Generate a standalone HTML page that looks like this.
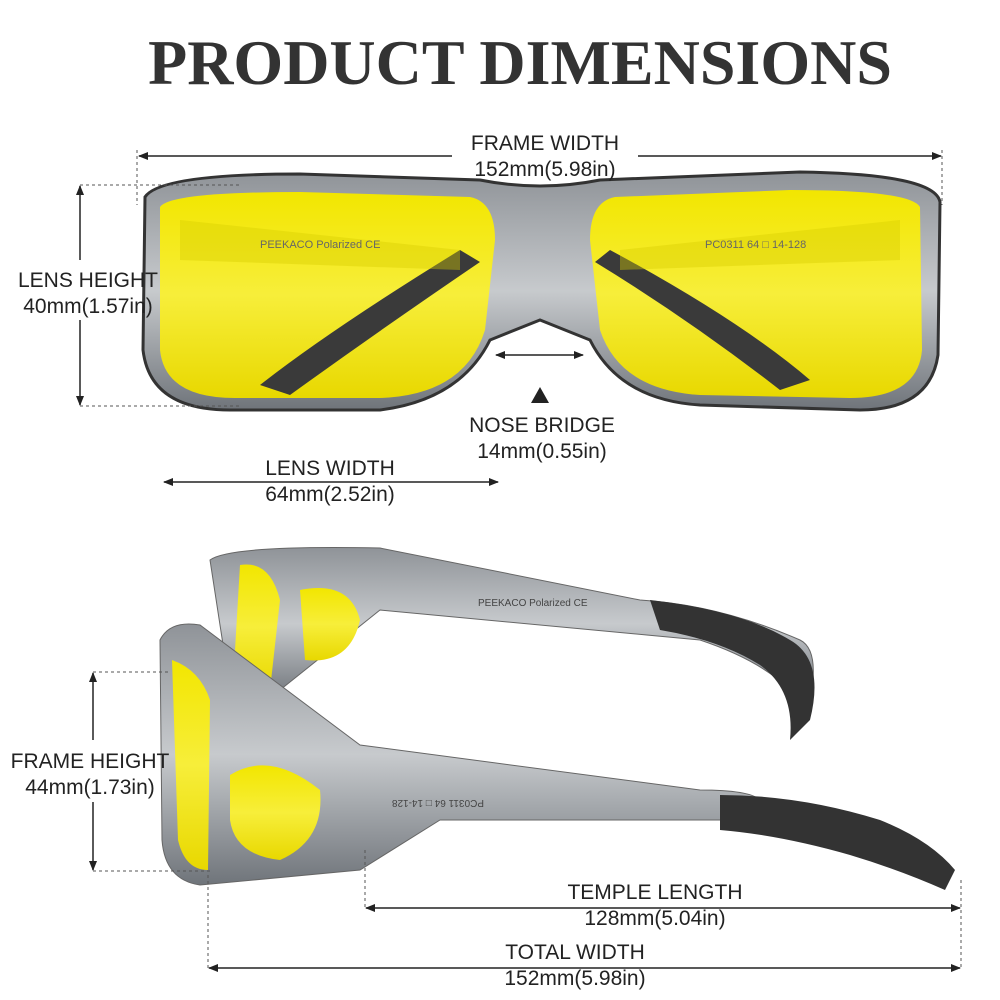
<!DOCTYPE html>
<html><head><meta charset="utf-8"><style>
html,body{margin:0;padding:0;background:#fff;}
svg{display:block}
text{font-family:"Liberation Sans",sans-serif;fill:#222}
</style></head><body>
<svg width="1000" height="1000" viewBox="0 0 1000 1000" xmlns="http://www.w3.org/2000/svg">
<defs>
<marker id="a" markerWidth="10" markerHeight="8" refX="9" refY="4" orient="auto-start-reverse" markerUnits="userSpaceOnUse"><path d="M0,0 L10,4 L0,8 z" fill="#222"/></marker>
<linearGradient id="y" x1="0" y1="0" x2="0" y2="1"><stop offset="0" stop-color="#f2e600"/><stop offset="0.5" stop-color="#f7ee3a"/><stop offset="1" stop-color="#e8d800"/></linearGradient>
<linearGradient id="g" x1="0" y1="0" x2="0" y2="1"><stop offset="0" stop-color="#8f9398"/><stop offset="0.5" stop-color="#c7cacd"/><stop offset="1" stop-color="#6f747a"/></linearGradient>
</defs>
<text x="520" y="84" text-anchor="middle" style="font-family:'Liberation Serif',serif;font-weight:bold;font-size:64px;fill:#333">PRODUCT DIMENSIONS</text>

<!-- front glasses -->
<path d="M145,197 Q160,174 300,174 L480,180 Q540,192 600,180 L800,172 Q935,174 940,202 L938,355 Q930,410 860,410 L700,405 Q620,400 590,340 L540,320 L490,340 Q460,400 380,410 L230,410 Q150,410 143,350 Z" fill="url(#g)" stroke="#333" stroke-width="3"/>
<path d="M160,207 Q170,192 300,192 L470,197 Q495,202 495,240 L485,330 Q465,395 380,398 L235,398 Q165,398 160,350 Z" fill="url(#y)"/>
<path d="M920,207 Q910,190 790,190 L615,197 Q590,202 590,240 L600,330 Q620,390 700,395 L850,398 Q918,398 922,350 Z" fill="url(#y)"/>
<path d="M260,385 Q330,330 460,250 L480,262 Q380,330 290,395 Z" fill="#3a3a3a"/>
<path d="M810,380 Q740,320 610,250 L595,262 Q690,320 780,390 Z" fill="#3a3a3a"/>
<path d="M180,220 L460,250 L460,270 L180,260 Z" fill="#d8cc00" opacity="0.4"/>
<path d="M900,220 L620,250 L620,270 L900,260 Z" fill="#d8cc00" opacity="0.4"/>
<text x="260" y="248" font-size="11" style="fill:#666">PEEKACO  Polarized  CE</text>
<text x="705" y="248" font-size="11" style="fill:#666">PC0311 64 □ 14-128</text>

<!-- side glasses -->
<path d="M210,560 Q230,545 380,548 L640,600 Q720,605 800,640 Q820,650 810,700 L790,690 Q760,660 700,640 L380,610 L280,690 L230,690 Z" fill="url(#g)" stroke="#666"/>
<path d="M650,600 Q740,610 790,640 Q825,660 810,720 L790,740 Q795,690 760,665 Q720,640 660,630 Z" fill="#333"/>
<path d="M240,565 Q270,560 280,600 L270,690 Q245,690 235,650 Z" fill="url(#y)"/>
<path d="M300,590 Q350,580 360,620 Q350,665 305,660 Z" fill="url(#y)"/>
<text x="478" y="606" font-size="10" style="fill:#444">PEEKACO   Polarized  CE</text>
<path d="M160,640 Q170,620 200,625 L360,745 L700,790 Q750,790 760,800 L720,820 L440,820 L360,870 L200,885 Q165,880 162,840 Z" fill="url(#g)" stroke="#666"/>
<path d="M172,660 Q200,670 210,700 L208,870 Q185,870 178,840 Z" fill="url(#y)"/>
<path d="M230,775 Q270,750 320,790 Q325,840 280,860 Q235,855 230,820 Z" fill="url(#y)"/>
<path d="M720,795 Q800,795 880,820 Q930,840 955,870 L945,890 Q900,870 850,855 Q780,835 720,830 Z" fill="#333"/>
<text x="590" y="800" font-size="10" transform="rotate(180 537 800)" style="fill:#444">PC0311 64 □ 14-128</text>

<!-- frame width -->
<line x1="139" y1="156" x2="452" y2="156" stroke="#222" stroke-width="1.5" marker-start="url(#a)"/>
<line x1="638" y1="156" x2="941" y2="156" stroke="#222" stroke-width="1.5" marker-end="url(#a)"/>
<text x="545" y="150" text-anchor="middle" font-size="21">FRAME WIDTH</text>
<text x="545" y="176" text-anchor="middle" font-size="21">152mm(5.98in)</text>
<line x1="137" y1="150" x2="137" y2="205" stroke="#555" stroke-dasharray="3,3"/>
<line x1="942" y1="150" x2="942" y2="205" stroke="#555" stroke-dasharray="3,3"/>

<!-- lens height -->
<line x1="80" y1="186" x2="80" y2="260" stroke="#222" stroke-width="1.5" marker-start="url(#a)"/>
<line x1="80" y1="320" x2="80" y2="405" stroke="#222" stroke-width="1.5" marker-end="url(#a)"/>
<line x1="80" y1="185" x2="240" y2="185" stroke="#555" stroke-dasharray="3,3"/>
<line x1="80" y1="406" x2="240" y2="406" stroke="#555" stroke-dasharray="3,3"/>
<text x="88" y="287" text-anchor="middle" font-size="21">LENS HEIGHT</text>
<text x="88" y="313" text-anchor="middle" font-size="21">40mm(1.57in)</text>

<!-- nose bridge -->
<line x1="496" y1="355" x2="583" y2="355" stroke="#222" stroke-width="1.5" marker-start="url(#a)" marker-end="url(#a)"/>
<path d="M540,387 L549,403 L531,403 Z" fill="#222"/>
<text x="542" y="432" text-anchor="middle" font-size="21">NOSE BRIDGE</text>
<text x="542" y="458" text-anchor="middle" font-size="21">14mm(0.55in)</text>

<!-- lens width -->
<line x1="164" y1="482" x2="498" y2="482" stroke="#222" stroke-width="1.5" marker-start="url(#a)" marker-end="url(#a)"/>
<text x="330" y="475" text-anchor="middle" font-size="21">LENS WIDTH</text>
<text x="330" y="501" text-anchor="middle" font-size="21">64mm(2.52in)</text>

<!-- frame height -->
<line x1="93" y1="673" x2="93" y2="740" stroke="#222" stroke-width="1.5" marker-start="url(#a)"/>
<line x1="93" y1="802" x2="93" y2="870" stroke="#222" stroke-width="1.5" marker-end="url(#a)"/>
<line x1="93" y1="672" x2="170" y2="672" stroke="#555" stroke-dasharray="3,3"/>
<line x1="93" y1="871" x2="210" y2="871" stroke="#555" stroke-dasharray="3,3"/>
<text x="90" y="768" text-anchor="middle" font-size="21">FRAME HEIGHT</text>
<text x="90" y="794" text-anchor="middle" font-size="21">44mm(1.73in)</text>

<!-- temple length -->
<line x1="366" y1="908" x2="960" y2="908" stroke="#222" stroke-width="1.5" marker-start="url(#a)" marker-end="url(#a)"/>
<rect x="540" y="878" width="230" height="24" fill="#fff"/>
<text x="655" y="899" text-anchor="middle" font-size="21">TEMPLE LENGTH</text>
<rect x="570" y="911" width="170" height="22" fill="#fff"/>
<text x="655" y="925" text-anchor="middle" font-size="21">128mm(5.04in)</text>
<line x1="365" y1="850" x2="365" y2="908" stroke="#555" stroke-dasharray="3,3"/>

<!-- total width -->
<line x1="209" y1="968" x2="960" y2="968" stroke="#222" stroke-width="1.5" marker-start="url(#a)" marker-end="url(#a)"/>
<rect x="480" y="938" width="190" height="24" fill="#fff"/>
<text x="575" y="959" text-anchor="middle" font-size="21">TOTAL WIDTH</text>
<rect x="480" y="971" width="190" height="24" fill="#fff"/>
<text x="575" y="985" text-anchor="middle" font-size="21">152mm(5.98in)</text>
<line x1="208" y1="875" x2="208" y2="968" stroke="#555" stroke-dasharray="3,3"/>
<line x1="961" y1="880" x2="961" y2="968" stroke="#555" stroke-dasharray="3,3"/>
</svg>
</body></html>
